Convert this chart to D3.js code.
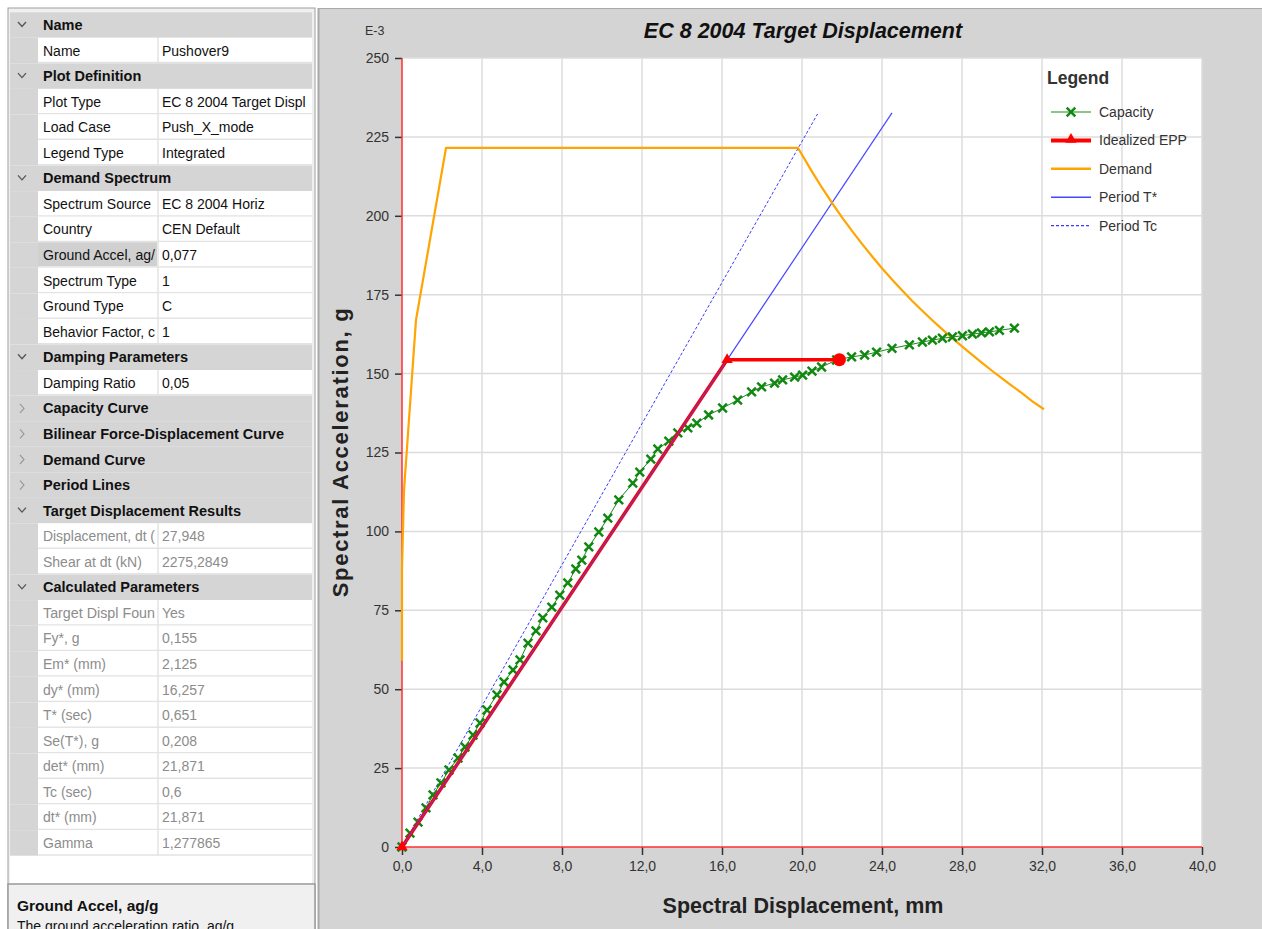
<!DOCTYPE html>
<html><head><meta charset="utf-8">
<script src="https://cdn.jsdelivr.net/npm/d3@7/dist/d3.min.js"></script>
<style>body{margin:0;background:#fff;}svg{display:block;font-family:"Liberation Sans",Arial,sans-serif;}</style>
</head><body>
<svg id="c" width="1262" height="929"></svg>
<script>
// ---------- data ----------
const chartTitle = "EC 8 2004 Target Displacement";
const xTicks = [0,4,8,12,16,20,24,28,32,36,40];
const xTickLabels = ["0,0","4,0","8,0","12,0","16,0","20,0","24,0","28,0","32,0","36,0","40,0"];
const yTicks = [0,25,50,75,100,125,150,175,200,225,250];
const yTickLabels = ["0","25","50","75","100","125","150","175","200","225","250"];

const capX = [0,0.4,0.8,1.2,1.55,1.95,2.35,2.8,3.15,3.55,3.9,4.25,4.75,5.1,5.55,5.9,6.3,6.7,7.04,7.49,7.89,8.29,8.69,8.99,9.34,9.84,10.29,10.84,11.54,11.89,12.44,12.79,13.34,13.79,14.29,14.74,15.33,16.03,16.78,17.48,17.98,18.63,19.03,19.63,20.03,20.5,20.98,21.73,22.48,23.13,23.73,24.5,25.37,26.02,26.52,27.02,27.52,28.02,28.52,28.97,29.37,29.87,30.62];
const capY = [0,4.4,7.9,12.4,16.5,20.3,24.4,28.2,31.7,35.5,39.3,43.4,48.2,52.3,56.1,59.3,64.6,68.5,72.6,76.0,79.8,83.7,88.1,90.9,95.1,99.8,104.2,110.0,115.3,118.8,122.9,126.1,128.6,131.2,132.8,134.3,136.9,139.1,141.6,144.2,145.8,147.0,148.0,148.9,149.5,150.8,152.1,154.3,155.3,155.9,156.8,158.0,159.1,160.0,160.6,161.2,161.6,162.0,162.5,162.9,163.2,163.7,164.4];

const eppX = [0,16.257,21.871];
const eppY = [0,154.4,154.4];

const demX = [0,0,0.1,0.7,2.2,19.8,20.5,21,21.5,22,22.5,23,23.5,24,24.5,25,25.5,26,26.5,27,27.5,28,28.5,29,29.5,30,30.5,31,31.5,32.1];
const demY = [59,88,113,167,221.5,221.5,214,208.9,204.1,199.5,195.2,191.1,187.2,183.4,179.8,176.4,173.1,170,167,164.1,161.3,158.6,156,153.4,150.9,148.5,146.1,143.8,141.3,138.7];

const perTX = [0,24.5];
const perTY = [0,232.6];
const perTcX = [0,20.78];
const perTcY = [0,232.3];

const legendNames = ["Capacity","Idealized EPP","Demand","Period T*","Period Tc"];

// property grid rows: kind h = expanded header, c = collapsed header, p = editable, r = read-only, s = selected
const gridKinds = ["h","p","h","p","p","p","h","p","p","s","p","p","p","h","p","c","c","c","c","h","r","r","h","r","r","r","r","r","r","r","r","r","r"];
const gridNames = ["Name","Name","Plot Definition","Plot Type","Load Case","Legend Type","Demand Spectrum","Spectrum Source","Country","Ground Accel, ag/","Spectrum Type","Ground Type","Behavior Factor, c","Damping Parameters","Damping Ratio","Capacity Curve","Bilinear Force-Displacement Curve","Demand Curve","Period Lines","Target Displacement Results","Displacement, dt (","Shear at dt (kN)","Calculated Parameters","Target Displ Foun","Fy*, g","Em* (mm)","dy* (mm)","T* (sec)","Se(T*), g","det* (mm)","Tc (sec)","dt* (mm)","Gamma"];
const gridValues = ["","Pushover9","","EC 8 2004 Target Displ","Push_X_mode","Integrated","","EC 8 2004 Horiz","CEN Default","0,077","1","C","1","","0,05","","","","","","27,948","2275,2849","","Yes","0,155","2,125","16,257","0,651","0,208","21,871","0,6","21,871","1,277865"];
const descTitle = "Ground Accel, ag/g";
const descText = "The ground acceleration ratio, ag/g";

// ---------- drawing ----------
const svg = d3.select("#c");

// left property grid
const gx0 = 10, gx1 = 312, nameX = 38, valX = 158;
const rowH = 25.56, row0 = 25;
svg.append("rect").attr("x",8).attr("y",8).attr("width",307).attr("height",921).attr("fill","#f0f0f0").attr("stroke","#a0a0a0");
svg.append("rect").attr("x",gx0).attr("y",12).attr("width",gx1-gx0).attr("height",871).attr("fill","#fff");
const clipDefs = svg.append("defs");
gridNames.forEach((n,i)=>{
  const cy = row0 + i*rowH, top = cy - rowH/2;
  const k = gridKinds[i];
  const g = svg.append("g");
  if (k==="h" || k==="c") {
    g.append("rect").attr("x",gx0).attr("y",top).attr("width",gx1-gx0).attr("height",rowH).attr("fill","#d5d5d5");
    if (k==="h") {
      g.append("path").attr("d",`M18,${cy-3}L22,${cy+1.5}L26,${cy-3}`).attr("fill","none").attr("stroke","#555").attr("stroke-width",1.3);
    } else {
      g.append("path").attr("d",`M20,${cy-4.5}L24,${cy}L20,${cy+4.5}`).attr("fill","none").attr("stroke","#9a9a9a").attr("stroke-width",1.2);
    }
    g.append("text").attr("x",43).attr("y",cy+5).attr("font-size",14.5).attr("font-weight","bold").attr("fill","#111").text(n);
  } else {
    g.append("rect").attr("x",gx0).attr("y",top).attr("width",nameX-gx0).attr("height",rowH).attr("fill","#d5d5d5");
    g.append("rect").attr("x",nameX).attr("y",top).attr("width",valX-nameX-1).attr("height",rowH-1.5).attr("fill",k==="s"?"#d0d0d0":"#fff");
    g.append("rect").attr("x",valX+1).attr("y",top).attr("width",gx1-valX-1).attr("height",rowH-1.5).attr("fill","#fff");
    g.append("line").attr("x1",nameX).attr("x2",gx1).attr("y1",top+rowH-0.75).attr("y2",top+rowH-0.75).attr("stroke","#e3e3e3").attr("stroke-width",1.5);
    g.append("line").attr("x1",valX).attr("x2",valX).attr("y1",top).attr("y2",top+rowH).attr("stroke","#e3e3e3").attr("stroke-width",1.5);
    const col = k==="r" ? "#8c8c8c" : "#111";
    const cid = "cl"+i;
    clipDefs.append("clipPath").attr("id",cid).append("rect").attr("x",nameX).attr("y",top).attr("width",valX-nameX-2).attr("height",rowH);
    g.append("text").attr("x",43).attr("y",cy+5).attr("font-size",14).attr("fill",col).attr("clip-path","url(#"+cid+")")
      .attr("textLength", n.length>16 ? 112 : null).attr("lengthAdjust","spacingAndGlyphs").text(n);
    const cid2 = "cv"+i;
    clipDefs.append("clipPath").attr("id",cid2).append("rect").attr("x",valX+1).attr("y",top).attr("width",gx1-valX-1).attr("height",rowH);
    g.append("text").attr("x",162).attr("y",cy+5).attr("font-size",14).attr("fill",col).attr("clip-path","url(#"+cid2+")").text(gridValues[i]);
  }
});
// description box
svg.append("rect").attr("x",8).attr("y",884).attr("width",307).attr("height",50).attr("fill","#f0f0f0").attr("stroke","#9a9a9a").attr("stroke-width",1.5);
svg.append("text").attr("x",17).attr("y",911).attr("font-size",15.5).attr("font-weight","bold").attr("fill","#111").text(descTitle);
svg.append("text").attr("x",17).attr("y",931).attr("font-size",14).attr("fill","#111").text(descText);

// chart panel
svg.append("rect").attr("x",318).attr("y",8).attr("width",944).attr("height",921).attr("fill","#d4d4d4");
svg.append("line").attr("x1",318).attr("x2",1262).attr("y1",8.5).attr("y2",8.5).attr("stroke","#a8a8a8");
svg.append("line").attr("x1",318.5).attr("x2",318.5).attr("y1",8).attr("y2",929).attr("stroke","#a8a8a8").attr("stroke-width",2);

const x = d3.scaleLinear().domain([0,40]).range([402,1202]);
const y = d3.scaleLinear().domain([0,250]).range([847,58]);

svg.append("rect").attr("x",x(0)).attr("y",y(250)).attr("width",x(40)-x(0)).attr("height",y(0)-y(250)).attr("fill","#fff");

// grid
svg.append("g").selectAll("line").data(xTicks.slice(1)).join("line")
  .attr("x1",d=>x(d)).attr("x2",d=>x(d)).attr("y1",y(0)).attr("y2",y(250)).attr("stroke","#dcdcdc").attr("stroke-width",1.5);
svg.append("g").selectAll("line").data(yTicks.slice(1)).join("line")
  .attr("x1",x(0)).attr("x2",x(40)).attr("y1",d=>y(d)).attr("y2",d=>y(d)).attr("stroke","#dcdcdc").attr("stroke-width",1.5);

// axes via d3 axis
const xAxis = d3.axisBottom(x).tickValues(xTicks).tickFormat((d,i)=>xTickLabels[i]).tickSize(8).tickSizeOuter(0).tickPadding(6);
const gxA = svg.append("g").attr("transform",`translate(0,${y(0)})`).call(xAxis);
gxA.select(".domain").remove();
gxA.selectAll(".tick line").attr("stroke","#333").attr("stroke-width",1.5);
gxA.selectAll(".tick text").attr("font-size",14).attr("fill","#333").attr("font-family","Liberation Sans, Arial, sans-serif");

const yAxis = d3.axisLeft(y).tickValues(yTicks).tickFormat((d,i)=>yTickLabels[i]).tickSize(7).tickSizeOuter(0).tickPadding(6);
const gyA = svg.append("g").attr("transform",`translate(${x(0)},0)`).call(yAxis);
gyA.select(".domain").remove();
gyA.selectAll(".tick line").attr("stroke","#333").attr("stroke-width",1.5);
gyA.selectAll(".tick text").attr("font-size",14).attr("fill","#333").attr("font-family","Liberation Sans, Arial, sans-serif");

// red axis lines
svg.append("line").attr("x1",x(0)).attr("x2",x(40)).attr("y1",y(0)).attr("y2",y(0)).attr("stroke","#ff3030").attr("stroke-width",1.5);
svg.append("line").attr("x1",x(0)).attr("x2",x(0)).attr("y1",y(0)).attr("y2",y(250)).attr("stroke","#ff3030").attr("stroke-width",1.5);

const line = d3.line().x(d=>x(d[0])).y(d=>y(d[1]));
const zip = (a,b)=>a.map((v,i)=>[v,b[i]]);

// period lines
svg.append("path").attr("d",line(zip(perTcX,perTcY))).attr("fill","none").attr("stroke","#3a3aff").attr("stroke-width",1).attr("stroke-dasharray","3,2");
svg.append("path").attr("d",line(zip(perTX,perTY))).attr("fill","none").attr("stroke","#4646ff").attr("stroke-width",1.2);

// demand
svg.append("path").attr("d",line(zip(demX,demY))).attr("fill","none").attr("stroke","#ffa500").attr("stroke-width",2.2).attr("stroke-linejoin","round");

// capacity
const capPts = zip(capX,capY);
svg.append("path").attr("d",line(capPts)).attr("fill","none").attr("stroke","#1a8a1a").attr("stroke-width",1);
const ms = 4.3;
svg.append("g").selectAll("path").data(capPts).join("path")
  .attr("d",d=>{const px=x(d[0]),py=y(d[1]);return `M${px-ms},${py-ms}L${px+ms},${py+ms}M${px-ms},${py+ms}L${px+ms},${py-ms}`;})
  .attr("stroke","#118811").attr("stroke-width",2.5);

// idealized EPP
const eppPts = zip(eppX,eppY);
svg.append("path").attr("d",line(eppPts)).attr("fill","none").attr("stroke","#ff0000").attr("stroke-width",3.5).attr("stroke-linejoin","miter");
svg.append("path").attr("d",line([[0,0],[eppX[1],eppX[1]*perTY[1]/perTX[1]]])).attr("fill","none").attr("stroke","#4646ff").attr("stroke-width",1);
const tri = d3.symbol().type(d3.symbolTriangle).size(55);
svg.append("g").selectAll("path").data(eppPts.slice(0,2)).join("path")
  .attr("transform",d=>`translate(${x(d[0])},${y(d[1])})`).attr("d",tri).attr("fill","#ff0000");
svg.append("circle").attr("cx",x(eppX[2])).attr("cy",y(eppY[2])).attr("r",6.5).attr("fill","#ff0000");

// titles
svg.append("text").attr("x",803).attr("y",38).attr("text-anchor","middle").attr("font-size",21.5).attr("font-weight","bold").attr("font-style","italic").attr("fill","#111").text(chartTitle);
svg.append("text").attr("x",365).attr("y",35).attr("font-size",12.5).attr("fill","#333").text("E-3");
svg.append("text").attr("x",803).attr("y",913).attr("text-anchor","middle").attr("font-size",21.5).attr("font-weight","bold").attr("fill","#222").text("Spectral Displacement, mm");
svg.append("text").attr("transform","translate(348,452) rotate(-90)").attr("text-anchor","middle").attr("font-size",22).attr("letter-spacing","1.7px").attr("font-weight","bold").attr("fill","#222").text("Spectral Acceleration, g");

// legend
const lg = svg.append("g");
lg.append("text").attr("x",1047).attr("y",84).attr("font-size",17.5).attr("font-weight","bold").attr("fill","#333").text("Legend");
const ly = i => 112 + i*28.4;
legendNames.forEach((n,i)=>{
  lg.append("text").attr("x",1099).attr("y",ly(i)+5).attr("font-size",14).attr("fill","#333").text(n);
});
lg.append("line").attr("x1",1051).attr("x2",1091).attr("y1",ly(0)).attr("y2",ly(0)).attr("stroke","#1a8a1a").attr("stroke-width",1.2);
lg.append("path").attr("d",`M${1071-ms},${ly(0)-ms}L${1071+ms},${ly(0)+ms}M${1071-ms},${ly(0)+ms}L${1071+ms},${ly(0)-ms}`).attr("stroke","#118811").attr("stroke-width",2.5);
lg.append("line").attr("x1",1051).attr("x2",1091).attr("y1",ly(1)).attr("y2",ly(1)).attr("stroke","#ff0000").attr("stroke-width",4);
lg.append("path").attr("transform",`translate(1071,${ly(1)-1})`).attr("d",tri).attr("fill","#ff0000");
lg.append("line").attr("x1",1051).attr("x2",1091).attr("y1",ly(2)).attr("y2",ly(2)).attr("stroke","#ffa500").attr("stroke-width",2.5);
lg.append("line").attr("x1",1051).attr("x2",1091).attr("y1",ly(3)).attr("y2",ly(3)).attr("stroke","#4646ff").attr("stroke-width",1.5);
lg.append("line").attr("x1",1051).attr("x2",1091).attr("y1",ly(4)).attr("y2",ly(4)).attr("stroke","#3a3aff").attr("stroke-width",1.2).attr("stroke-dasharray","3,2");
</script>
</body></html>
